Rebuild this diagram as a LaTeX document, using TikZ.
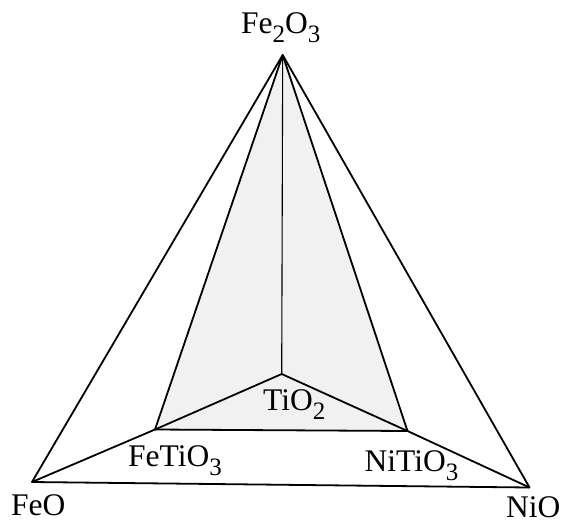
\documentclass[tikz,border=0pt]{standalone}
\usepackage{fontspec}
\setmainfont{Liberation Serif}
\newcommand{\chemsub}[1]{\raisebox{-9pt}{\fontsize{25}{25}\selectfont #1}}
\begin{document}
\begin{tikzpicture}[x=1pt,y=-1pt,
  edge/.style={line width=1.8pt,line join=round},
  thinedge/.style={line width=1.1pt},
  lbl/.style={inner sep=0pt,anchor=base west,font=\fontsize{31.5}{31.5}\selectfont}]
\useasboundingbox (0,0) rectangle (564,525);
\coordinate (A) at (282.7,55);
\coordinate (F) at (32,482);
\coordinate (N) at (529.5,487.5);
\coordinate (T) at (281.7,374);
\coordinate (FT) at (155,429.5);
\coordinate (NT) at (407.5,431);
\fill[gray!11] (A) -- (FT) -- (NT) -- cycle;
\draw[edge] (F) -- (A) -- (N) -- cycle;
\draw[edge] (F) -- (FT) -- (T) -- (NT) -- (N);
\draw[edge] (FT) -- (NT);
\draw[edge] (FT) -- (A) -- (NT);
\draw[thinedge] (A) -- (T);
\node[lbl] (lA) at (241,33.5) {Fe\chemsub{2}O\chemsub{3}};
\node[lbl] (lF) at (11,515) {FeO};
\node[lbl] (lN) at (506,517.5) {NiO};
\node[lbl] (lT) at (263,410.5) {TiO\chemsub{2}};
\node[lbl] (lFT) at (128,466) {FeTiO\chemsub{3}};
\node[lbl] (lNT) at (364.5,471.5) {NiTiO\chemsub{3}};
\end{tikzpicture}
\end{document}
